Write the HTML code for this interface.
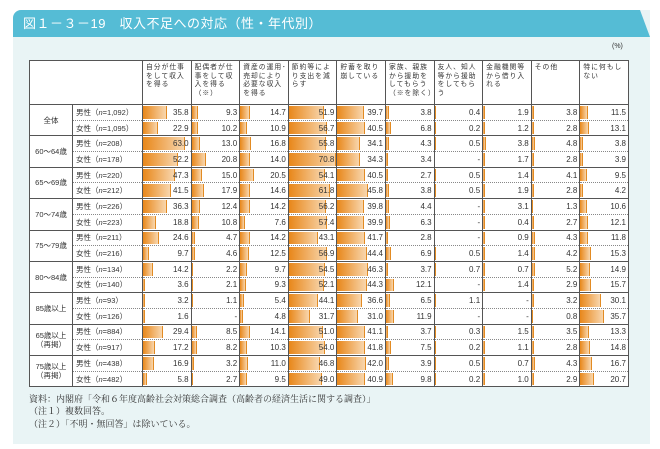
<!DOCTYPE html>
<html><head><meta charset="utf-8"><style>
*{margin:0;padding:0;box-sizing:border-box}
body{width:660px;height:449px;background:#fff;position:relative;overflow:hidden;font-family:"Liberation Sans","Noto Sans CJK JP",sans-serif;color:#333}
#panel{position:absolute;left:13px;top:10px;width:637px;height:434px;background:#e9f4f5;border-top-left-radius:8px}
#title{position:absolute;left:13px;top:10px;width:637px;height:27px;background:#55bcd5;clip-path:polygon(0 0,627px 0,637px 27px,0 27px);border-top-left-radius:8px;color:#fff;font-size:13px;line-height:27px;padding-left:10px;letter-spacing:.5px}
#pct{position:absolute;left:612px;top:43px;font-size:7px}
table{position:absolute;left:29px;top:60px;width:599px;border-collapse:collapse;background:#fff;table-layout:fixed}
td,th{border:1px solid #555;font-weight:normal}
thead th{height:44px;vertical-align:top;text-align:left;font-size:6.8px;line-height:8.5px;padding:3px 1px 0 3px;letter-spacing:1px}
tbody tr{height:15.7px}
td.g{text-align:center;font-size:7.5px;line-height:9px}
td.l{font-size:7.5px;padding-left:3px;white-space:nowrap;border-right:1px solid #555}
td.l em{font-style:italic}
td.v{position:relative;text-align:right;font-size:8px;padding-right:2px;border-left:1.5px solid #444}
td.v i{position:absolute;left:0;top:1px;bottom:1px;width:max(1.5px,calc(var(--v)*0.67px));background:linear-gradient(to right,#e8871a,#f8d6ad);border-right:1px solid #e28b23}
td.v span{position:relative}
tr.m td.l,tr.m td.v{border-bottom:1px dotted #888}
tr.f td.l,tr.f td.v{border-top:1px dotted #888}
#foot{position:absolute;left:29px;top:393px;font-family:"Liberation Serif","Noto Serif CJK SC",serif;font-size:9px;line-height:12.3px;color:#333}
</style></head><body>
<div id="panel"></div>
<div id="title">図１－３－19　収入不足への対応（性・年代別）</div>
<div id="pct">(%)</div>
<table>
<colgroup><col style="width:43px"><col style="width:70px"><col span="10" style="width:48.6px"></colgroup>
<thead><tr><th colspan="2"></th>
<th>自分が仕事をして収入を得る</th><th>配偶者が仕事をして収入を得る（※）</th><th>資産の運用･売却により必要な収入を得る</th><th>節約等により支出を減らす</th><th>貯蓄を取り崩している</th><th>家族、親族から援助をしてもらう（※を除く）</th><th>友人、知人等から援助をしてもらう</th><th>金融機関等から借り入れる</th><th>その他</th><th>特に何もしない</th></tr></thead>
<tbody>
<tr class="m"><td class="g" rowspan="2">全体</td><td class="l">男性（<em>n</em>=1,092）</td><td class="v" style="--v:35.8"><i></i><span>35.8</span></td><td class="v" style="--v:9.3"><i></i><span>9.3</span></td><td class="v" style="--v:14.7"><i></i><span>14.7</span></td><td class="v" style="--v:51.9"><i></i><span>51.9</span></td><td class="v" style="--v:39.7"><i></i><span>39.7</span></td><td class="v" style="--v:3.8"><i></i><span>3.8</span></td><td class="v" style="--v:0.4"><i></i><span>0.4</span></td><td class="v" style="--v:1.9"><i></i><span>1.9</span></td><td class="v" style="--v:3.8"><i></i><span>3.8</span></td><td class="v" style="--v:11.5"><i></i><span>11.5</span></td></tr>
<tr class="f"><td class="l">女性（<em>n</em>=1,095）</td><td class="v" style="--v:22.9"><i></i><span>22.9</span></td><td class="v" style="--v:10.2"><i></i><span>10.2</span></td><td class="v" style="--v:10.9"><i></i><span>10.9</span></td><td class="v" style="--v:56.7"><i></i><span>56.7</span></td><td class="v" style="--v:40.5"><i></i><span>40.5</span></td><td class="v" style="--v:6.8"><i></i><span>6.8</span></td><td class="v" style="--v:0.2"><i></i><span>0.2</span></td><td class="v" style="--v:1.2"><i></i><span>1.2</span></td><td class="v" style="--v:2.8"><i></i><span>2.8</span></td><td class="v" style="--v:13.1"><i></i><span>13.1</span></td></tr>
<tr class="m"><td class="g" rowspan="2">60～64歳</td><td class="l">男性（<em>n</em>=208）</td><td class="v" style="--v:63.0"><i></i><span>63.0</span></td><td class="v" style="--v:13.0"><i></i><span>13.0</span></td><td class="v" style="--v:16.8"><i></i><span>16.8</span></td><td class="v" style="--v:55.8"><i></i><span>55.8</span></td><td class="v" style="--v:34.1"><i></i><span>34.1</span></td><td class="v" style="--v:4.3"><i></i><span>4.3</span></td><td class="v" style="--v:0.5"><i></i><span>0.5</span></td><td class="v" style="--v:3.8"><i></i><span>3.8</span></td><td class="v" style="--v:4.8"><i></i><span>4.8</span></td><td class="v" style="--v:3.8"><i></i><span>3.8</span></td></tr>
<tr class="f"><td class="l">女性（<em>n</em>=178）</td><td class="v" style="--v:52.2"><i></i><span>52.2</span></td><td class="v" style="--v:20.8"><i></i><span>20.8</span></td><td class="v" style="--v:14.0"><i></i><span>14.0</span></td><td class="v" style="--v:70.8"><i></i><span>70.8</span></td><td class="v" style="--v:34.3"><i></i><span>34.3</span></td><td class="v" style="--v:3.4"><i></i><span>3.4</span></td><td class="v"><span>-</span></td><td class="v" style="--v:1.7"><i></i><span>1.7</span></td><td class="v" style="--v:2.8"><i></i><span>2.8</span></td><td class="v" style="--v:3.9"><i></i><span>3.9</span></td></tr>
<tr class="m"><td class="g" rowspan="2">65～69歳</td><td class="l">男性（<em>n</em>=220）</td><td class="v" style="--v:47.3"><i></i><span>47.3</span></td><td class="v" style="--v:15.0"><i></i><span>15.0</span></td><td class="v" style="--v:20.5"><i></i><span>20.5</span></td><td class="v" style="--v:54.1"><i></i><span>54.1</span></td><td class="v" style="--v:40.5"><i></i><span>40.5</span></td><td class="v" style="--v:2.7"><i></i><span>2.7</span></td><td class="v" style="--v:0.5"><i></i><span>0.5</span></td><td class="v" style="--v:1.4"><i></i><span>1.4</span></td><td class="v" style="--v:4.1"><i></i><span>4.1</span></td><td class="v" style="--v:9.5"><i></i><span>9.5</span></td></tr>
<tr class="f"><td class="l">女性（<em>n</em>=212）</td><td class="v" style="--v:41.5"><i></i><span>41.5</span></td><td class="v" style="--v:17.9"><i></i><span>17.9</span></td><td class="v" style="--v:14.6"><i></i><span>14.6</span></td><td class="v" style="--v:61.8"><i></i><span>61.8</span></td><td class="v" style="--v:45.8"><i></i><span>45.8</span></td><td class="v" style="--v:3.8"><i></i><span>3.8</span></td><td class="v" style="--v:0.5"><i></i><span>0.5</span></td><td class="v" style="--v:1.9"><i></i><span>1.9</span></td><td class="v" style="--v:2.8"><i></i><span>2.8</span></td><td class="v" style="--v:4.2"><i></i><span>4.2</span></td></tr>
<tr class="m"><td class="g" rowspan="2">70～74歳</td><td class="l">男性（<em>n</em>=226）</td><td class="v" style="--v:36.3"><i></i><span>36.3</span></td><td class="v" style="--v:12.4"><i></i><span>12.4</span></td><td class="v" style="--v:14.2"><i></i><span>14.2</span></td><td class="v" style="--v:56.2"><i></i><span>56.2</span></td><td class="v" style="--v:39.8"><i></i><span>39.8</span></td><td class="v" style="--v:4.4"><i></i><span>4.4</span></td><td class="v"><span>-</span></td><td class="v" style="--v:3.1"><i></i><span>3.1</span></td><td class="v" style="--v:1.3"><i></i><span>1.3</span></td><td class="v" style="--v:10.6"><i></i><span>10.6</span></td></tr>
<tr class="f"><td class="l">女性（<em>n</em>=223）</td><td class="v" style="--v:18.8"><i></i><span>18.8</span></td><td class="v" style="--v:10.8"><i></i><span>10.8</span></td><td class="v" style="--v:7.6"><i></i><span>7.6</span></td><td class="v" style="--v:57.4"><i></i><span>57.4</span></td><td class="v" style="--v:39.9"><i></i><span>39.9</span></td><td class="v" style="--v:6.3"><i></i><span>6.3</span></td><td class="v"><span>-</span></td><td class="v" style="--v:0.4"><i></i><span>0.4</span></td><td class="v" style="--v:2.7"><i></i><span>2.7</span></td><td class="v" style="--v:12.1"><i></i><span>12.1</span></td></tr>
<tr class="m"><td class="g" rowspan="2">75～79歳</td><td class="l">男性（<em>n</em>=211）</td><td class="v" style="--v:24.6"><i></i><span>24.6</span></td><td class="v" style="--v:4.7"><i></i><span>4.7</span></td><td class="v" style="--v:14.2"><i></i><span>14.2</span></td><td class="v" style="--v:43.1"><i></i><span>43.1</span></td><td class="v" style="--v:41.7"><i></i><span>41.7</span></td><td class="v" style="--v:2.8"><i></i><span>2.8</span></td><td class="v"><span>-</span></td><td class="v" style="--v:0.9"><i></i><span>0.9</span></td><td class="v" style="--v:4.3"><i></i><span>4.3</span></td><td class="v" style="--v:11.8"><i></i><span>11.8</span></td></tr>
<tr class="f"><td class="l">女性（<em>n</em>=216）</td><td class="v" style="--v:9.7"><i></i><span>9.7</span></td><td class="v" style="--v:4.6"><i></i><span>4.6</span></td><td class="v" style="--v:12.5"><i></i><span>12.5</span></td><td class="v" style="--v:56.9"><i></i><span>56.9</span></td><td class="v" style="--v:44.4"><i></i><span>44.4</span></td><td class="v" style="--v:6.9"><i></i><span>6.9</span></td><td class="v" style="--v:0.5"><i></i><span>0.5</span></td><td class="v" style="--v:1.4"><i></i><span>1.4</span></td><td class="v" style="--v:4.2"><i></i><span>4.2</span></td><td class="v" style="--v:15.3"><i></i><span>15.3</span></td></tr>
<tr class="m"><td class="g" rowspan="2">80～84歳</td><td class="l">男性（<em>n</em>=134）</td><td class="v" style="--v:14.2"><i></i><span>14.2</span></td><td class="v" style="--v:2.2"><i></i><span>2.2</span></td><td class="v" style="--v:9.7"><i></i><span>9.7</span></td><td class="v" style="--v:54.5"><i></i><span>54.5</span></td><td class="v" style="--v:46.3"><i></i><span>46.3</span></td><td class="v" style="--v:3.7"><i></i><span>3.7</span></td><td class="v" style="--v:0.7"><i></i><span>0.7</span></td><td class="v" style="--v:0.7"><i></i><span>0.7</span></td><td class="v" style="--v:5.2"><i></i><span>5.2</span></td><td class="v" style="--v:14.9"><i></i><span>14.9</span></td></tr>
<tr class="f"><td class="l">女性（<em>n</em>=140）</td><td class="v" style="--v:3.6"><i></i><span>3.6</span></td><td class="v" style="--v:2.1"><i></i><span>2.1</span></td><td class="v" style="--v:9.3"><i></i><span>9.3</span></td><td class="v" style="--v:52.1"><i></i><span>52.1</span></td><td class="v" style="--v:44.3"><i></i><span>44.3</span></td><td class="v" style="--v:12.1"><i></i><span>12.1</span></td><td class="v"><span>-</span></td><td class="v" style="--v:1.4"><i></i><span>1.4</span></td><td class="v" style="--v:2.9"><i></i><span>2.9</span></td><td class="v" style="--v:15.7"><i></i><span>15.7</span></td></tr>
<tr class="m"><td class="g" rowspan="2">85歳以上</td><td class="l">男性（<em>n</em>=93）</td><td class="v" style="--v:3.2"><i></i><span>3.2</span></td><td class="v" style="--v:1.1"><i></i><span>1.1</span></td><td class="v" style="--v:5.4"><i></i><span>5.4</span></td><td class="v" style="--v:44.1"><i></i><span>44.1</span></td><td class="v" style="--v:36.6"><i></i><span>36.6</span></td><td class="v" style="--v:6.5"><i></i><span>6.5</span></td><td class="v" style="--v:1.1"><i></i><span>1.1</span></td><td class="v"><span>-</span></td><td class="v" style="--v:3.2"><i></i><span>3.2</span></td><td class="v" style="--v:30.1"><i></i><span>30.1</span></td></tr>
<tr class="f"><td class="l">女性（<em>n</em>=126）</td><td class="v" style="--v:1.6"><i></i><span>1.6</span></td><td class="v"><span>-</span></td><td class="v" style="--v:4.8"><i></i><span>4.8</span></td><td class="v" style="--v:31.7"><i></i><span>31.7</span></td><td class="v" style="--v:31.0"><i></i><span>31.0</span></td><td class="v" style="--v:11.9"><i></i><span>11.9</span></td><td class="v"><span>-</span></td><td class="v"><span>-</span></td><td class="v" style="--v:0.8"><i></i><span>0.8</span></td><td class="v" style="--v:35.7"><i></i><span>35.7</span></td></tr>
<tr class="m"><td class="g" rowspan="2">65歳以上<br>（再掲）</td><td class="l">男性（<em>n</em>=884）</td><td class="v" style="--v:29.4"><i></i><span>29.4</span></td><td class="v" style="--v:8.5"><i></i><span>8.5</span></td><td class="v" style="--v:14.1"><i></i><span>14.1</span></td><td class="v" style="--v:51.0"><i></i><span>51.0</span></td><td class="v" style="--v:41.1"><i></i><span>41.1</span></td><td class="v" style="--v:3.7"><i></i><span>3.7</span></td><td class="v" style="--v:0.3"><i></i><span>0.3</span></td><td class="v" style="--v:1.5"><i></i><span>1.5</span></td><td class="v" style="--v:3.5"><i></i><span>3.5</span></td><td class="v" style="--v:13.3"><i></i><span>13.3</span></td></tr>
<tr class="f"><td class="l">女性（<em>n</em>=917）</td><td class="v" style="--v:17.2"><i></i><span>17.2</span></td><td class="v" style="--v:8.2"><i></i><span>8.2</span></td><td class="v" style="--v:10.3"><i></i><span>10.3</span></td><td class="v" style="--v:54.0"><i></i><span>54.0</span></td><td class="v" style="--v:41.8"><i></i><span>41.8</span></td><td class="v" style="--v:7.5"><i></i><span>7.5</span></td><td class="v" style="--v:0.2"><i></i><span>0.2</span></td><td class="v" style="--v:1.1"><i></i><span>1.1</span></td><td class="v" style="--v:2.8"><i></i><span>2.8</span></td><td class="v" style="--v:14.8"><i></i><span>14.8</span></td></tr>
<tr class="m"><td class="g" rowspan="2">75歳以上<br>（再掲）</td><td class="l">男性（<em>n</em>=438）</td><td class="v" style="--v:16.9"><i></i><span>16.9</span></td><td class="v" style="--v:3.2"><i></i><span>3.2</span></td><td class="v" style="--v:11.0"><i></i><span>11.0</span></td><td class="v" style="--v:46.8"><i></i><span>46.8</span></td><td class="v" style="--v:42.0"><i></i><span>42.0</span></td><td class="v" style="--v:3.9"><i></i><span>3.9</span></td><td class="v" style="--v:0.5"><i></i><span>0.5</span></td><td class="v" style="--v:0.7"><i></i><span>0.7</span></td><td class="v" style="--v:4.3"><i></i><span>4.3</span></td><td class="v" style="--v:16.7"><i></i><span>16.7</span></td></tr>
<tr class="f"><td class="l">女性（<em>n</em>=482）</td><td class="v" style="--v:5.8"><i></i><span>5.8</span></td><td class="v" style="--v:2.7"><i></i><span>2.7</span></td><td class="v" style="--v:9.5"><i></i><span>9.5</span></td><td class="v" style="--v:49.0"><i></i><span>49.0</span></td><td class="v" style="--v:40.9"><i></i><span>40.9</span></td><td class="v" style="--v:9.8"><i></i><span>9.8</span></td><td class="v" style="--v:0.2"><i></i><span>0.2</span></td><td class="v" style="--v:1.0"><i></i><span>1.0</span></td><td class="v" style="--v:2.9"><i></i><span>2.9</span></td><td class="v" style="--v:20.7"><i></i><span>20.7</span></td></tr>
</tbody></table>
<div id="foot">資料：内閣府「令和６年度高齢社会対策総合調査（高齢者の経済生活に関する調査）」<br>（注１）複数回答。<br>（注２）「不明・無回答」は除いている。</div>
</body></html>
